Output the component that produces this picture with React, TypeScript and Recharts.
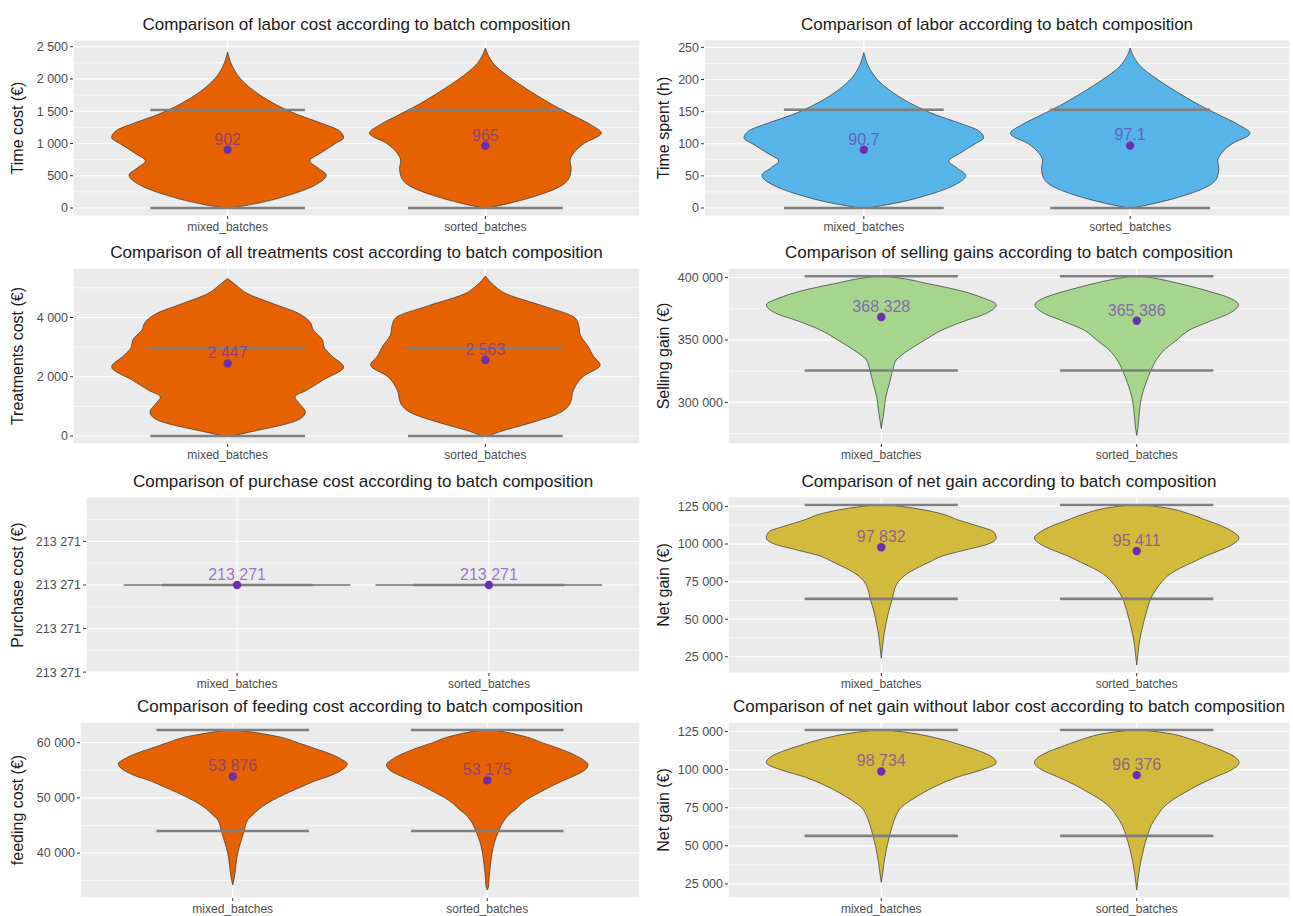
import React from 'react'
import { ComposedChart, Area, XAxis, YAxis, CartesianGrid, ReferenceLine, ReferenceDot } from 'recharts'

const categories = ['mixed_batches', 'sorted_batches']

// violin outlines: y levels and relative density (1 = widest)
const costMixedY = [0, 70, 200, 350, 510, 620, 730, 850, 1000, 1090, 1200, 1320, 1450, 1600, 1750, 1900, 2050, 2200, 2420]
const costMixedD = [0.03, 0.25, 0.53, 0.75, 0.85, 0.78, 0.71, 0.8, 0.93, 1, 0.96, 0.8, 0.6, 0.42, 0.28, 0.17, 0.09, 0.04, 0]
const costSortedY = [0, 70, 200, 350, 500, 620, 730, 850, 1000, 1160, 1300, 1450, 1600, 1750, 1900, 2050, 2200, 2350, 2480]
const costSortedD = [0.02, 0.2, 0.46, 0.66, 0.73, 0.74, 0.73, 0.76, 0.85, 1, 0.9, 0.74, 0.58, 0.44, 0.31, 0.19, 0.09, 0.03, 0]

const hoursMixedY = [0, 7, 20, 35, 51, 62, 73, 85, 100, 109, 120, 132, 145, 160, 175, 190, 205, 220, 242]
const hoursMixedD = [0.03, 0.25, 0.53, 0.75, 0.85, 0.78, 0.71, 0.8, 0.93, 1, 0.96, 0.8, 0.6, 0.42, 0.28, 0.17, 0.09, 0.04, 0]
const hoursSortedY = [0, 7, 20, 35, 50, 62, 73, 85, 100, 116, 130, 145, 160, 175, 190, 205, 220, 235, 249]
const hoursSortedD = [0.02, 0.2, 0.46, 0.66, 0.73, 0.74, 0.73, 0.76, 0.85, 1, 0.9, 0.74, 0.58, 0.44, 0.31, 0.19, 0.09, 0.03, 0]

const treatMixedY = [0, 200, 360, 590, 810, 1090, 1320, 1540, 1880, 2330, 2730, 3010, 3230, 3570, 3850, 4140, 4470, 4810, 5100, 5320]
const treatMixedD = [0.035, 0.27, 0.46, 0.63, 0.67, 0.62, 0.58, 0.68, 0.82, 1, 0.89, 0.83, 0.82, 0.74, 0.71, 0.61, 0.39, 0.17, 0.07, 0]
const treatSortedY = [0, 150, 430, 760, 1100, 1550, 2000, 2400, 2700, 3000, 3400, 3800, 4000, 4400, 4800, 5100, 5400]
const treatSortedD = [0.03, 0.13, 0.38, 0.63, 0.73, 0.76, 0.84, 0.99, 0.93, 0.89, 0.82, 0.8, 0.77, 0.49, 0.18, 0.07, 0]

const sellMixedY = [279000, 294000, 304500, 315000, 326000, 334000, 342000, 350000, 358000, 364700, 371500, 378200, 383500, 388900, 395600, 399000, 400800]
const sellMixedD = [0, 0.025, 0.04, 0.07, 0.1, 0.13, 0.24, 0.38, 0.53, 0.71, 0.92, 1, 0.89, 0.71, 0.38, 0.2, 0.06]
const sellSortedY = [273500, 280000, 294000, 304500, 315000, 326000, 334000, 342000, 350000, 358000, 364700, 371500, 378200, 383500, 388900, 395600, 399000, 400800]
const sellSortedD = [0, 0.011, 0.025, 0.043, 0.078, 0.125, 0.17, 0.24, 0.35, 0.46, 0.63, 0.81, 0.885, 0.81, 0.63, 0.35, 0.18, 0.06]

const purchaseY = [213271]
const purchaseD = [1]

const netMixedY = [24000, 32000, 40000, 48000, 56000, 64000, 70000, 75000, 80000, 84000, 88000, 92000, 96000, 100000, 104000, 108000, 112000, 116000, 120000, 124000, 125800]
const netMixedD = [0, 0.011, 0.024, 0.044, 0.067, 0.098, 0.116, 0.15, 0.22, 0.31, 0.42, 0.53, 0.73, 0.93, 1, 0.98, 0.84, 0.67, 0.53, 0.27, 0.09]
const netSortedY = [19500, 24000, 32000, 40000, 48000, 56000, 64000, 70000, 75000, 80000, 84000, 88000, 92000, 96000, 100000, 104000, 108000, 112000, 116000, 120000, 124000, 125800]
const netSortedD = [0, 0.007, 0.018, 0.036, 0.06, 0.089, 0.124, 0.17, 0.22, 0.29, 0.38, 0.49, 0.6, 0.73, 0.84, 0.89, 0.84, 0.74, 0.6, 0.46, 0.26, 0.09]

const feedMixedY = [34200, 36000, 38000, 40000, 42000, 44000, 46000, 47000, 48000, 49000, 50000, 51000, 52000, 53000, 54000, 55000, 56200, 57000, 58000, 59000, 60000, 61000, 61800, 62250]
const feedMixedD = [0, 0.018, 0.029, 0.044, 0.07, 0.1, 0.13, 0.18, 0.23, 0.3, 0.39, 0.49, 0.6, 0.71, 0.85, 0.95, 1, 0.95, 0.85, 0.71, 0.57, 0.42, 0.21, 0.07]
const feedSortedY = [33300, 34000, 36000, 38000, 40000, 42000, 44000, 46000, 47000, 48000, 49000, 50000, 51000, 52000, 53000, 54000, 55000, 56000, 57000, 58000, 59000, 60000, 61000, 61800, 62250]
const feedSortedD = [0, 0.011, 0.018, 0.029, 0.042, 0.064, 0.1, 0.15, 0.19, 0.25, 0.3, 0.37, 0.46, 0.55, 0.65, 0.76, 0.85, 0.88, 0.83, 0.74, 0.62, 0.48, 0.35, 0.19, 0.07]

const netNoLabMixedY = [26000, 32000, 40000, 48000, 56000, 64000, 70000, 75000, 80000, 85000, 90000, 95000, 100000, 104500, 108000, 112000, 116000, 120000, 124000, 125800]
const netNoLabMixedD = [0, 0.012, 0.026, 0.045, 0.07, 0.1, 0.13, 0.17, 0.26, 0.37, 0.5, 0.66, 0.88, 1, 0.97, 0.86, 0.7, 0.52, 0.26, 0.08]
const netNoLabSortedY = [21000, 26000, 32000, 40000, 48000, 56000, 64000, 70000, 75000, 80000, 85000, 90000, 95000, 100000, 104500, 108000, 112000, 116000, 120000, 124000, 125800]
const netNoLabSortedD = [0, 0.008, 0.018, 0.036, 0.06, 0.09, 0.13, 0.18, 0.23, 0.31, 0.42, 0.54, 0.68, 0.83, 0.89, 0.86, 0.76, 0.62, 0.47, 0.26, 0.08]

// means (purple dots) and the grey reference levels
const costMeans = [902, 965]
const costLines = [0, 1520]
const hoursMeans = [90.7, 97.1]
const hoursLines = [0, 153]
const treatMeans = [2447, 2563]
const treatLines = [0, 2970]
const sellMeans = [368328, 365386]
const sellLines = [325500, 401000]
const purchaseMeans = [213271, 213271]
const purchaseLines = [213271]
const netMeans = [97832, 95411]
const netLines = [63500, 126000]
const feedMeans = [53876, 53175]
const feedLines = [44000, 62300]
const netNoLabMeans = [98734, 96376]
const netNoLabLines = [56500, 126000]

// axis ticks
const costTicks = [0, 500, 1000, 1500, 2000, 2500]
const costMinor = [250, 750, 1250, 1750, 2250]
const hoursTicks = [0, 50, 100, 150, 200, 250]
const hoursMinor = [25, 75, 125, 175, 225]
const treatTicks = [0, 2000, 4000]
const treatMinor = [1000, 3000, 5000]
const sellTicks = [300000, 350000, 400000]
const sellMinor = [275000, 325000, 375000]
const purchaseTicks = [213270.9, 213270.95, 213271, 213271.05]
const purchaseMinor = [213270.925, 213270.975, 213271.025, 213271.075]
const netTicks = [25000, 50000, 75000, 100000, 125000]
const netMinor = [37500, 62500, 87500, 112500]
const feedTicks = [40000, 50000, 60000]
const feedMinor = [35000, 45000, 55000]

const ORANGE = '#E66100'
const BLUE = '#56B4E9'
const GREEN = '#A6D58E'
const OLIVE = '#D2BA3C'
const PURPLE = '#6A2FB0'

const HALF = 0.45
const PANEL_H = 233
const PLOT_TOP = 38
const X_AXIS_H = 19

const fmt = (v: number) => {
  if (!Number.isInteger(v)) return String(v)
  return String(v).replace(/\B(?=(\d{3})+(?!\d))/g, ' ')
}
const fmtTick = (v: number) => fmt(Math.round(v))

type Violin = { y: number[]; d: number[] }
type Spec = {
  title: string
  yLabel: string
  fill: string
  left: number
  top: number
  width: number
  plotLeft: number
  right: number
  domain: [number, number]
  ticks: number[]
  minor: number[]
  violins: Violin[]
  means: number[]
  lines: number[]
}

const LEFT_W = 646
const RIGHT_W = 647

const panels: Spec[] = [
  { title: 'Comparison of labor cost according to batch composition', yLabel: 'Time cost (€)', fill: ORANGE,
    left: 0, top: 2, width: LEFT_W, plotLeft: 73, right: 6, domain: [-124, 2604], ticks: costTicks, minor: costMinor,
    violins: [{ y: costMixedY, d: costMixedD }, { y: costSortedY, d: costSortedD }], means: costMeans, lines: costLines },
  { title: 'Comparison of labor according to batch composition', yLabel: 'Time spent (h)', fill: BLUE,
    left: 646, top: 2, width: RIGHT_W, plotLeft: 58, right: 3, domain: [-12.45, 261.45], ticks: hoursTicks, minor: hoursMinor,
    violins: [{ y: hoursMixedY, d: hoursMixedD }, { y: hoursSortedY, d: hoursSortedD }], means: hoursMeans, lines: hoursLines },
  { title: 'Comparison of all treatments cost according to batch composition', yLabel: 'Treatments cost (€)', fill: ORANGE,
    left: 0, top: 230, width: LEFT_W, plotLeft: 73, right: 6, domain: [-270, 5670], ticks: treatTicks, minor: treatMinor,
    violins: [{ y: treatMixedY, d: treatMixedD }, { y: treatSortedY, d: treatSortedD }], means: treatMeans, lines: treatLines },
  { title: 'Comparison of selling gains according to batch composition', yLabel: 'Selling gain (€)', fill: GREEN,
    left: 646, top: 230, width: RIGHT_W, plotLeft: 82, right: 3, domain: [266700, 407600], ticks: sellTicks, minor: sellMinor,
    violins: [{ y: sellMixedY, d: sellMixedD }, { y: sellSortedY, d: sellSortedD }], means: sellMeans, lines: sellLines },
  { title: 'Comparison of purchase cost according to batch composition', yLabel: 'Purchase cost (€)', fill: ORANGE,
    left: 0, top: 459, width: LEFT_W, plotLeft: 86, right: 6, domain: [213270.899, 213271.101], ticks: purchaseTicks, minor: purchaseMinor,
    violins: [{ y: purchaseY, d: purchaseD }, { y: purchaseY, d: purchaseD }], means: purchaseMeans, lines: purchaseLines },
  { title: 'Comparison of net gain according to batch composition', yLabel: 'Net gain (€)', fill: OLIVE,
    left: 646, top: 459, width: RIGHT_W, plotLeft: 82, right: 3, domain: [14200, 131300], ticks: netTicks, minor: netMinor,
    violins: [{ y: netMixedY, d: netMixedD }, { y: netSortedY, d: netSortedD }], means: netMeans, lines: netLines },
  { title: 'Comparison of feeding cost according to batch composition', yLabel: 'feeding cost (€)', fill: ORANGE,
    left: 0, top: 684, width: LEFT_W, plotLeft: 80, right: 6, domain: [31850, 63750], ticks: feedTicks, minor: feedMinor,
    violins: [{ y: feedMixedY, d: feedMixedD }, { y: feedSortedY, d: feedSortedD }], means: feedMeans, lines: feedLines },
  { title: 'Comparison of net gain without labor cost according to batch composition', yLabel: 'Net gain (€)', fill: OLIVE,
    left: 646, top: 684, width: RIGHT_W, plotLeft: 82, right: 3, domain: [15750, 131250], ticks: netTicks, minor: netMinor,
    violins: [{ y: netNoLabMixedY, d: netNoLabMixedD }, { y: netNoLabSortedY, d: netNoLabSortedD }], means: netNoLabMeans, lines: netNoLabLines },
]

function Panel({ spec }: { spec: Spec }) {
  const plotH = PANEL_H - PLOT_TOP - X_AXIS_H
  return (
    <div style={{ position: 'absolute', left: spec.left, top: spec.top, width: spec.width, height: PANEL_H }}>
      <div style={{ position: 'absolute', left: spec.plotLeft, right: spec.right, top: 13, height: 20, lineHeight: '20px',
        display: 'flex', justifyContent: 'center', fontSize: 17, color: '#1a1a1a', whiteSpace: 'nowrap' }}>
        {spec.title}
      </div>
      <div style={{ position: 'absolute', left: 18, top: PLOT_TOP + plotH / 2, transform: 'translate(-50%, -50%) rotate(-90deg)',
        fontSize: 16, color: '#1a1a1a', whiteSpace: 'nowrap' }}>
        {spec.yLabel}
      </div>
      <ComposedChart layout="vertical" width={spec.width} height={PANEL_H}
        margin={{ top: PLOT_TOP, right: spec.right, bottom: 0, left: 0 }}>
        <CartesianGrid horizontalValues={spec.minor} vertical={false} fill="#EBEBEB" stroke="#ffffff" strokeWidth={0.6} />
        <CartesianGrid stroke="#ffffff" strokeWidth={1.2} />
        <XAxis type="number" domain={[0.4, 2.6]} ticks={[1, 2]} allowDataOverflow interval={0}
          tickFormatter={(v: number) => categories[v - 1]} axisLine={false} height={X_AXIS_H}
          tickLine={{ stroke: '#333333' }} tickSize={3} tickMargin={3} tick={{ fill: '#4d4d4d', fontSize: 12 }} />
        <YAxis type="number" dataKey="y" domain={spec.domain} ticks={spec.ticks} allowDataOverflow interval={0} reversed
          width={spec.plotLeft} tickFormatter={fmtTick} axisLine={false}
          tickLine={{ stroke: '#333333' }} tickSize={3} tickMargin={2} tick={{ fill: '#4d4d4d', fontSize: 12.5 }} />
        {spec.violins.map((v, i) => {
          const pos = i + 1
          if (v.y.length === 1) return null
          const data = v.y.map((y, j) => ({ y, r: [pos - v.d[j] * HALF, pos + v.d[j] * HALF] }))
          return (
            <Area key={'v' + i} data={data} dataKey="r" type="monotone" fill={spec.fill} fillOpacity={1}
              stroke="#333333" strokeWidth={0.7} isAnimationActive={false} dot={false} activeDot={false} />
          )
        })}
        {spec.violins.map((v, i) =>
          v.y.length === 1 ? (
            <ReferenceLine key={'f' + i} segment={[{ x: i + 1 - v.d[0] * HALF, y: v.y[0] }, { x: i + 1 + v.d[0] * HALF, y: v.y[0] }]}
              stroke="#333333" strokeWidth={1} />
          ) : null
        )}
        {spec.lines.flatMap((l, j) =>
          [1, 2].map((pos) => (
            <ReferenceLine key={'l' + j + '-' + pos} segment={[{ x: pos - 0.3, y: l }, { x: pos + 0.3, y: l }]}
              stroke="#7f7f7f" strokeWidth={2.6} />
          ))
        )}
        {spec.means.map((m, i) => (
          <ReferenceDot key={'m' + i} x={i + 1} y={m} r={4.2} fill={PURPLE} stroke="none"
            label={{ value: fmt(m), position: 'top', offset: 1, fill: PURPLE, fillOpacity: 0.65, fontSize: 16 }} />
        ))}
      </ComposedChart>
    </div>
  )
}

export default function App() {
  return (
    <div style={{ position: 'absolute', left: 0, top: 0, width: 1293, height: 916, background: '#ffffff',
      fontFamily: '"Liberation Sans", Arial, Helvetica, sans-serif' }}>
      {panels.map((p, i) => (
        <Panel key={i} spec={p} />
      ))}
    </div>
  )
}
